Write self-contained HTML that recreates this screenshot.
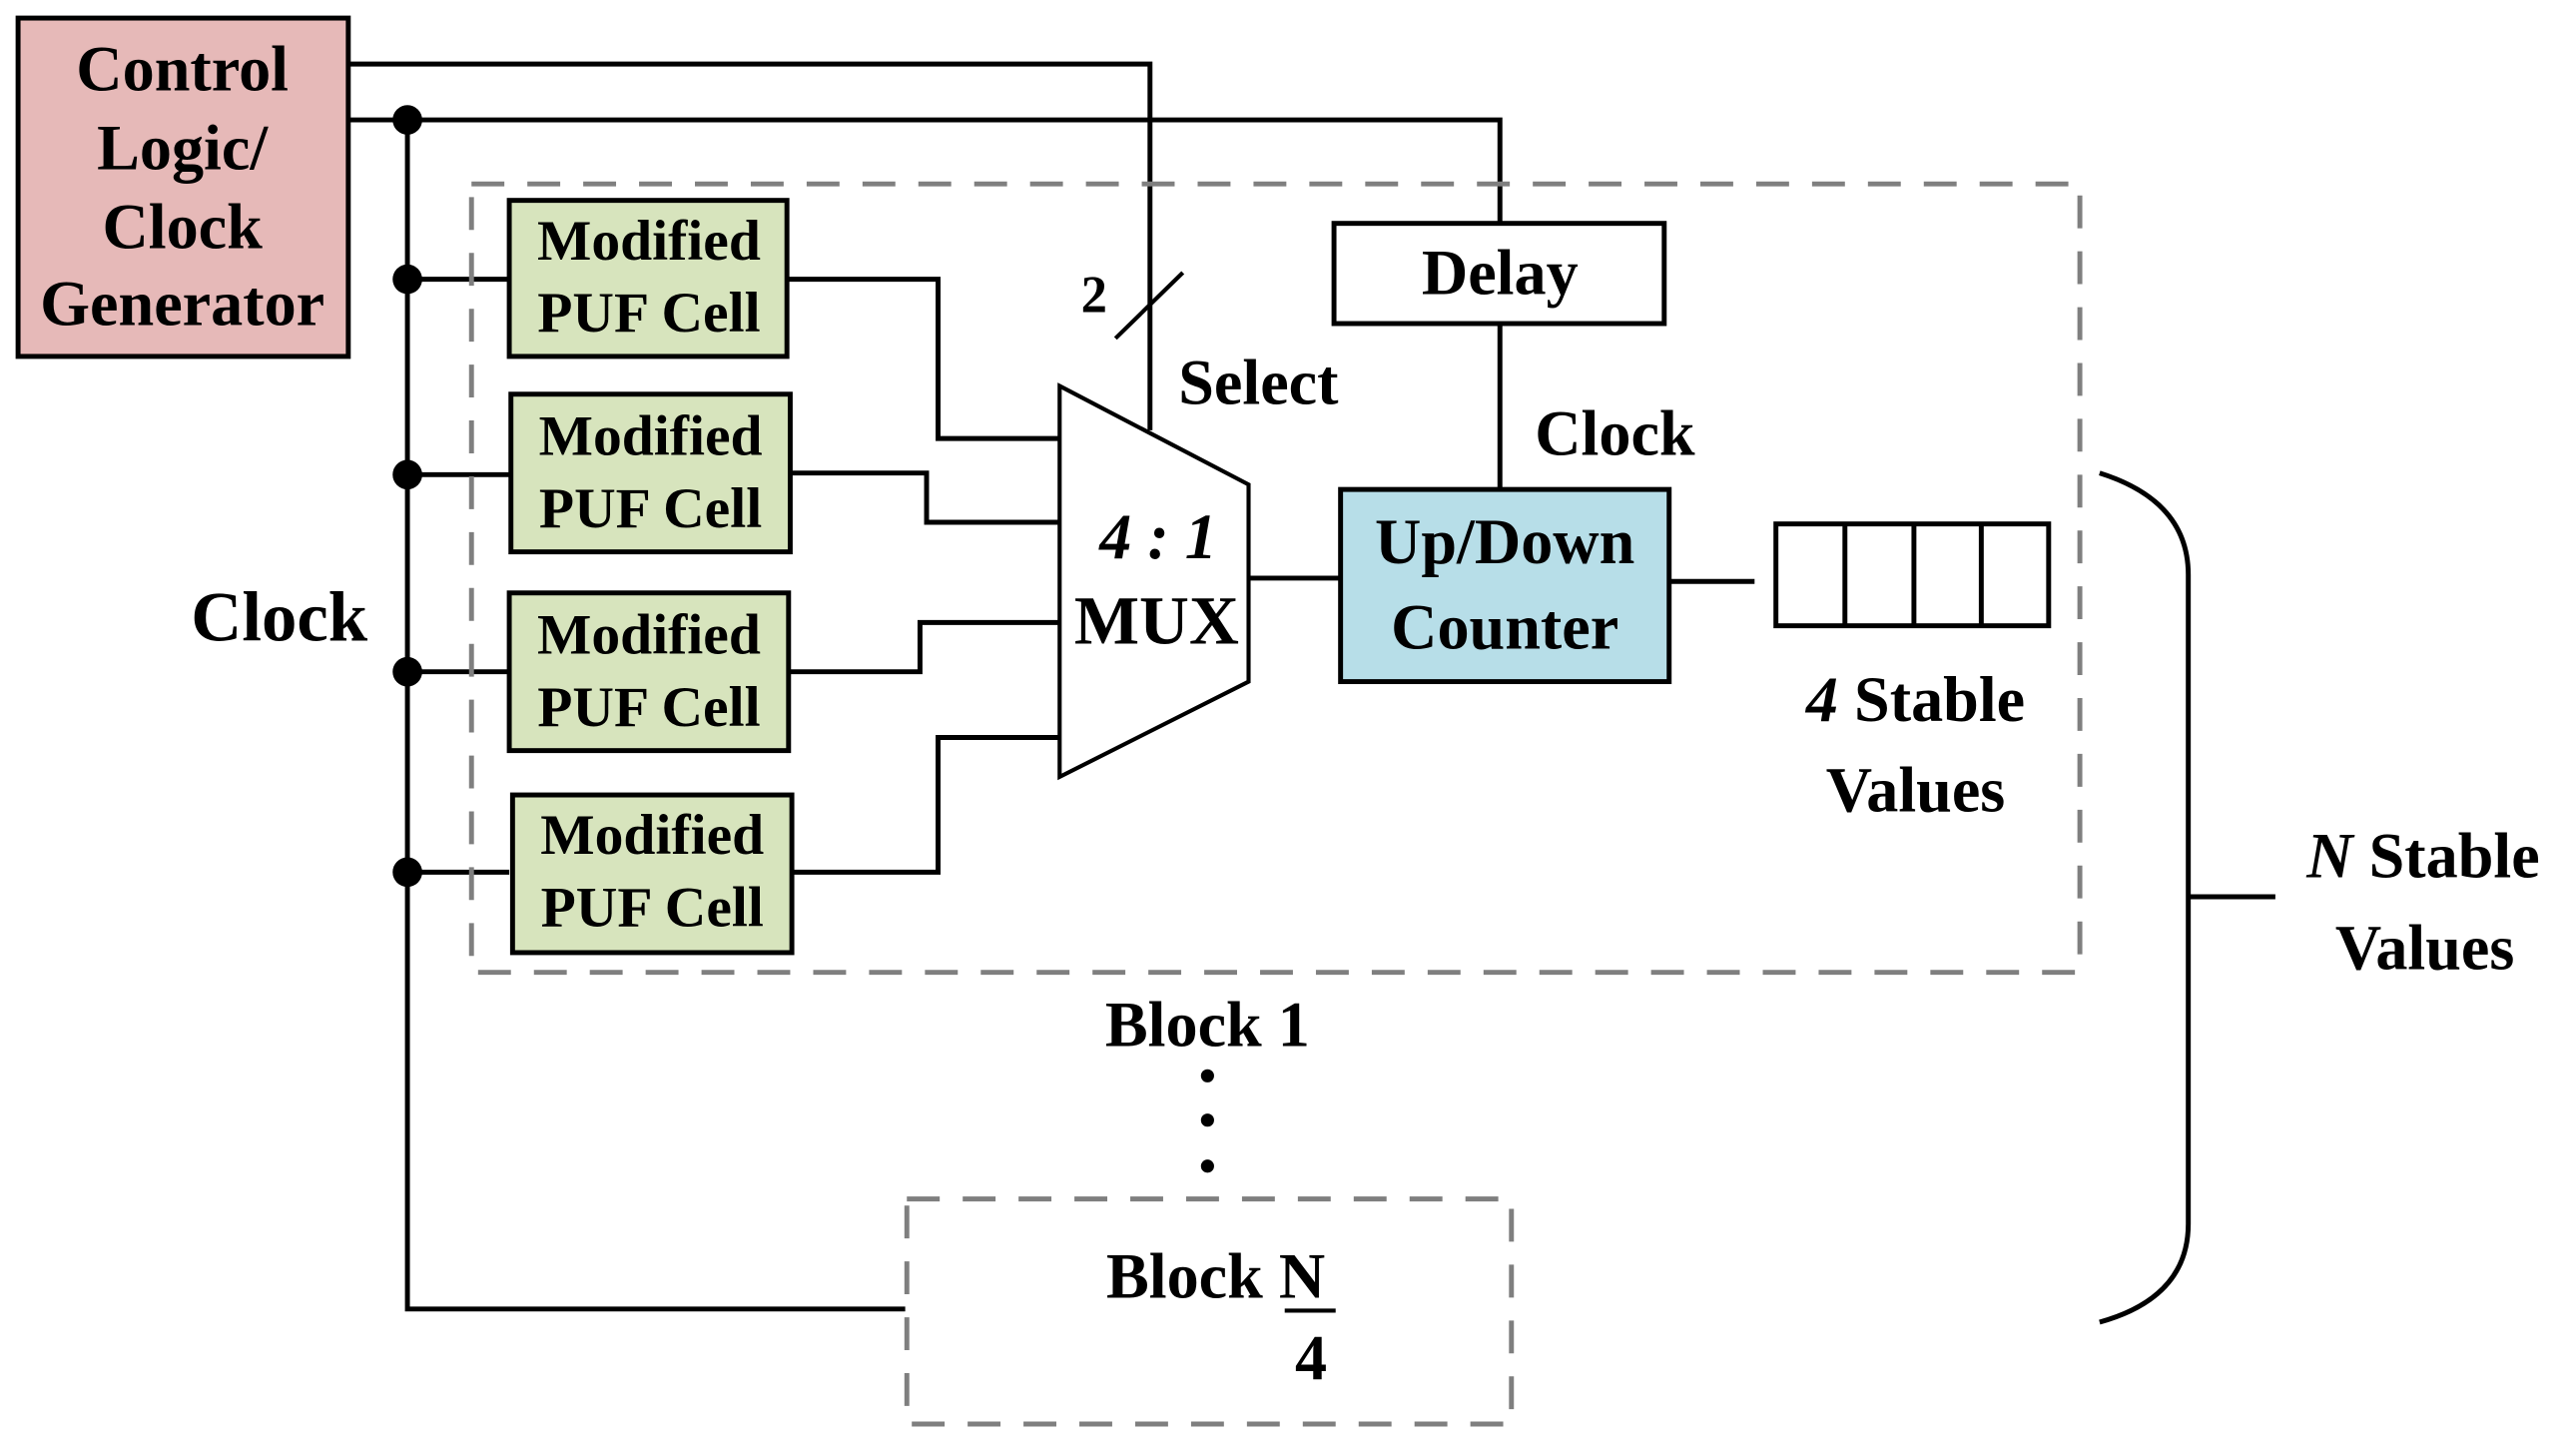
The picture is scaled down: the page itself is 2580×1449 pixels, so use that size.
<!DOCTYPE html>
<html><head><meta charset="utf-8"><style>html,body{margin:0;padding:0;background:#fff}svg{display:block}</style></head>
<body>
<svg width="2580" height="1449" viewBox="0 0 1568 881" preserveAspectRatio="none" xmlns="http://www.w3.org/2000/svg" font-family="Liberation Serif, serif" font-weight="bold">
<g fill="none" stroke="#000" stroke-width="3">
<path d="M212 39 H700 V262"/>
<path d="M212 73 H913 V136"/>
<path d="M248 73 V797 H551"/>
<path d="M248 170 H310 M248 289 H310 M248 409 H310 M248 531 H310"/>
<path d="M479 170 H571 V267 H645"/>
<path d="M481 288 H564 V318 H645"/>
<path d="M481 409 H560 V379 H645"/>
<path d="M482 531 H571 V449 H645"/>
<path d="M760 352 H816"/>
<path d="M913 197 V298"/>
<path d="M1016 354 H1068"/>
<path d="M679 206 L720 166" stroke-width="2.5"/>
<path d="M1278 288 Q1332 305 1332 350 V745 Q1332 790 1278 805"/>
<path d="M1332 546 H1385"/>
</g>
<g fill="none" stroke="#7f7f7f" stroke-width="3" stroke-dasharray="20,14">
<rect x="287" y="112" width="979" height="480"/>
<rect x="552" y="730" width="368" height="137"/>
</g>
<rect x="11" y="11" width="201" height="206" fill="#e6b9b8" stroke="#000" stroke-width="3"/>
<g fill="#d7e4bd" stroke="#000" stroke-width="3">
<rect x="310" y="122" width="169" height="95"/>
<rect x="311" y="240" width="170" height="96"/>
<rect x="310" y="361" width="170" height="96"/>
<rect x="312" y="484" width="170" height="96"/>
</g>
<rect x="816" y="298" width="200" height="117" fill="#b7dee8" stroke="#000" stroke-width="3"/>
<rect x="812" y="136" width="201" height="61" fill="#fff" stroke="#000" stroke-width="3"/>
<path d="M645 235 L760 295 V415 L645 473 Z" fill="#fff" stroke="#000" stroke-width="2.5"/>
<g fill="#fff" stroke="#000" stroke-width="3">
<rect x="1081" y="319" width="166" height="62"/>
<path d="M1123 319 V381 M1165 319 V381 M1206 319 V381"/>
</g>
<g fill="#000">
<circle cx="248" cy="73" r="9"/><circle cx="248" cy="170" r="9"/><circle cx="248" cy="289" r="9"/><circle cx="248" cy="409" r="9"/><circle cx="248" cy="531" r="9"/>
<circle cx="735" cy="655" r="4"/><circle cx="735" cy="682" r="4"/><circle cx="735" cy="710" r="4"/>
</g>
<g font-size="39" text-anchor="middle" fill="#000">
<text x="111" y="55">Control</text><text x="111" y="103">Logic/</text><text x="111" y="151">Clock</text><text x="111" y="198">Generator</text>
<text x="395" y="158" font-size="35">Modified</text><text x="395" y="202" font-size="35">PUF Cell</text>
<text x="396" y="277" font-size="35">Modified</text><text x="396" y="321" font-size="35">PUF Cell</text>
<text x="395" y="398" font-size="35">Modified</text><text x="395" y="442" font-size="35">PUF Cell</text>
<text x="397" y="520" font-size="35">Modified</text><text x="397" y="564" font-size="35">PUF Cell</text>
<text x="913" y="179">Delay</text>
<text x="916" y="343">Up/Down</text><text x="916" y="395">Counter</text>
<text x="705" y="340" font-style="italic">4 : 1</text><text x="704" y="392" font-size="42">MUX</text>
<text x="766" y="246">Select</text>
<text x="983" y="277">Clock</text>
<text x="170" y="390" font-size="43">Clock</text>
<text x="666" y="190" font-size="32">2</text>
<text x="1166" y="439"><tspan font-style="italic">4</tspan> Stable</text><text x="1166" y="494">Values</text>
<text x="1475" y="534"><tspan font-style="italic">N</tspan> Stable</text><text x="1476" y="590">Values</text>
<text x="735" y="637">Block 1</text>
<text x="740" y="790">Block N</text><text x="798" y="840">4</text>
</g>
<path d="M782 798 H813" stroke="#000" stroke-width="2.5"/>
</svg>
</body></html>
